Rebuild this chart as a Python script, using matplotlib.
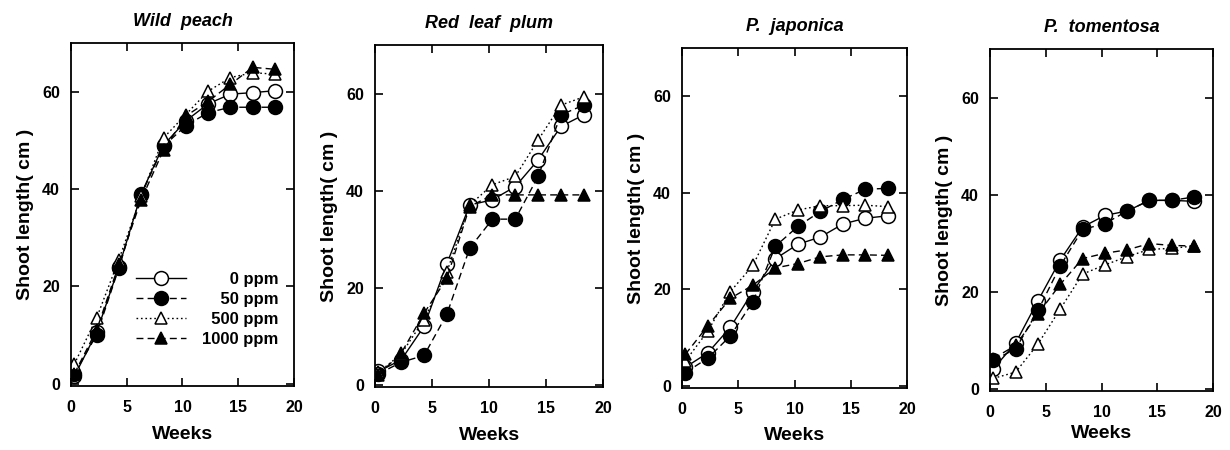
import matplotlib
matplotlib.use("Agg")
import matplotlib.pyplot as plt

plt.rcParams['font.family'] = ['Liberation Sans', 'DejaVu Sans']
plt.rcParams['font.weight'] = 'bold'

weeks = [0.3, 2.3, 4.3, 6.3, 8.3, 10.3, 12.3, 14.3, 16.3, 18.3]

species = ['Wild  peach', 'Red  leaf  plum', 'P.  japonica', 'P.  tomentosa']
doses = ['0 ppm', '50 ppm', '500 ppm', '1000 ppm']

# shoot length (cm) per species, one list per dose
wild_peach = [
    [1.5, 10.5, 24.0, 39.0, 49.0, 54.0, 57.5, 59.5, 59.8, 60.2],
    [2.0, 10.0, 23.8, 38.8, 48.8, 53.0, 55.7, 56.8, 56.8, 56.8],
    [4.0, 13.5, 25.5, 38.5, 50.5, 55.3, 60.1, 62.9, 63.9, 63.6],
    [2.0, 11.0, 24.5, 37.8, 48.0, 55.0, 58.0, 61.5, 65.0, 64.6],
]
red_leaf_plum = [
    [2.7, 5.1, 12.0, 24.9, 37.0, 38.1, 40.8, 46.3, 53.2, 55.6],
    [2.2, 4.6, 6.0, 14.5, 28.1, 34.1, 34.1, 42.9, 55.6, 57.6],
    [2.5, 6.3, 13.4, 23.2, 37.0, 41.2, 42.9, 50.4, 57.6, 59.3],
    [2.0, 6.5, 14.7, 21.9, 36.7, 39.1, 39.1, 39.1, 39.1, 39.1],
]
p_japonica = [
    [3.8, 6.8, 12.1, 19.5, 26.3, 29.3, 30.8, 33.5, 34.7, 35.2],
    [2.7, 5.7, 10.3, 17.4, 28.9, 33.0, 36.1, 38.6, 40.7, 40.9],
    [5.1, 11.3, 19.5, 24.9, 34.5, 36.4, 37.3, 37.3, 37.4, 37.1],
    [6.5, 12.4, 18.1, 20.8, 24.4, 25.3, 26.7, 27.1, 27.1, 27.0],
]
p_tomentosa = [
    [4.1, 9.4, 18.1, 26.5, 33.3, 35.7, 36.6, 38.8, 38.8, 38.6],
    [5.8, 8.2, 16.1, 25.3, 32.8, 34.0, 36.6, 38.8, 38.8, 39.5],
    [2.1, 3.4, 9.2, 16.4, 23.6, 25.5, 27.2, 28.7, 28.9, 29.4],
    [6.2, 8.9, 15.4, 21.5, 26.8, 27.9, 28.6, 29.9, 29.5, 29.4],
]
all_data = [wild_peach, red_leaf_plum, p_japonica, p_tomentosa]

styles = [
    dict(ls='-', marker='o', mfc='white', ms=10),
    dict(ls=(0, (5, 3)), marker='o', mfc='black', ms=10),
    dict(ls=(0, (1.2, 2)), marker='^', mfc='white', ms=9),
    dict(ls=(0, (5, 3)), marker='^', mfc='black', ms=9),
]

boxes = [
    [0.0577, 0.1422, 0.1813, 0.7622],
    [0.3049, 0.1400, 0.1854, 0.7600],
    [0.5545, 0.1378, 0.1829, 0.7556],
    [0.8049, 0.1311, 0.1813, 0.7600],
]
xlabel_pads = [8, 8, 7, 4]

fig = plt.figure(figsize=(12.3, 4.5), dpi=100)

for i, (name, data) in enumerate(zip(species, all_data)):
    ax = fig.add_axes(boxes[i])
    for j, series in enumerate(data):
        label = ' ' * [6, 4, 2, 0][j] + doses[j]
        ax.plot(weeks, series, color='black', lw=1.0, mec='black', mew=1.1,
                label=label, **styles[j])
    ax.set_xlim(0, 20)
    ax.set_ylim(-0.5, 70)
    ax.set_xticks([0, 5, 10, 15, 20])
    ax.set_yticks([0, 20, 40, 60])
    ax.tick_params(direction='in', top=True, right=True, length=6, width=1.2,
                   labelsize=11.5)
    ax.tick_params(axis='x', pad=10)
    ax.tick_params(axis='y', pad=8)
    for lab in ax.get_xticklabels() + ax.get_yticklabels():
        lab.set_fontweight('bold')
    for sp in ax.spines.values():
        sp.set_linewidth(1.3)
    ax.set_xlabel('Weeks', fontsize=14, fontweight='bold', labelpad=xlabel_pads[i])
    ax.set_ylabel('Shoot length( cm )', fontsize=14, fontweight='bold', labelpad=6)
    ax.set_title(name, fontsize=13, fontweight='bold', style='italic', pad=12)
    if i == 0:
        ax.legend(loc='lower right', frameon=False, fontsize=12,
                  handlelength=3.0, handletextpad=1.0, labelspacing=0.3,
                  bbox_to_anchor=(1.0, 0.07))

fig.savefig('out.png', dpi=100)
